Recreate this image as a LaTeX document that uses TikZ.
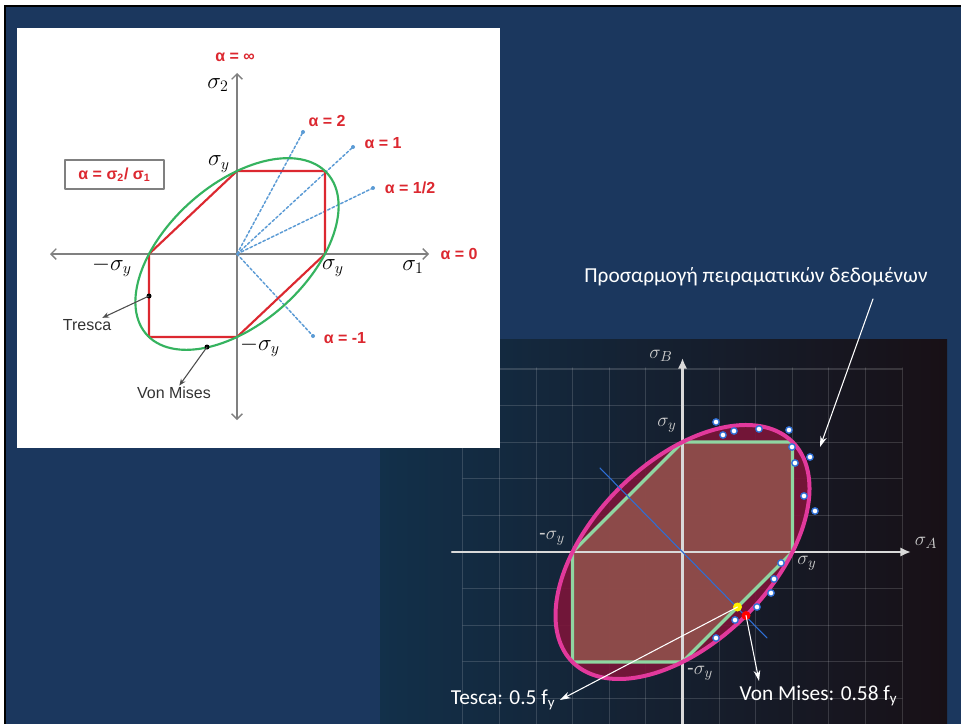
\documentclass[tikz,border=0pt]{standalone}
\usepackage{amsmath}
\usepackage{fontspec}
\setmainfont{Liberation Sans}
\newfontfamily\calibri{Carlito}
\usetikzlibrary{arrows.meta,calc}
\definecolor{slide}{HTML}{1B375E}
\definecolor{tred}{HTML}{DC2830}
\definecolor{vgreen}{HTML}{35B35F}
\definecolor{rayblue}{HTML}{5B9BD5}
\definecolor{magen}{HTML}{E2399C}
\definecolor{crim}{HTML}{7C1539}
\definecolor{salmon}{HTML}{90504B}
\definecolor{mint}{HTML}{8FD6A1}
\definecolor{dotblue}{HTML}{2E6FD6}
\definecolor{bgleft}{HTML}{12304A}
\definecolor{bgmid}{HTML}{0B1620}
\definecolor{bgright}{HTML}{181016}
\tikzset{
  ray/.style={rayblue, line width=1.1pt, dash pattern=on 2pt off 1.6pt},
  alab/.style={text=tred, font=\bfseries\fontsize{12}{14}\selectfont, inner sep=1pt},
  slab/.style={font=\fontsize{17}{20}\selectfont, inner sep=1pt},
  glab/.style={text=black!80, font=\fontsize{12}{14}\selectfont, inner sep=1pt},
  rlab/.style={text=gray!40, font=\fontsize{15}{17}\selectfont, inner sep=1pt},
  wlab/.style={text=white, font=\calibri\fontsize{16}{19}\selectfont},
  expt/.style={draw=dotblue, fill=white, line width=1pt},
  gridln/.style={white, opacity=0.15, line width=0.8pt},
}
\begin{document}
\begin{tikzpicture}[x=0.75pt, y=-0.75pt, >=Stealth, line join=round, line cap=round]
	\useasboundingbox (0,0) rectangle (961,724);
	\fill[white] (0,0) rectangle (961,724);
	\fill[black] (4,5) rectangle (961,724);
	\fill[slide] (6,7) rectangle (961,724);
	% right picture: experiments
	\def\Ax{682.5} \def\Ay{552} \def\sr{110}
	\shade[left color=bgleft, middle color=bgmid, right color=bgright] (380,339) rectangle (947,724);
	\foreach \k in {-6,...,6}
	{\draw[gridln] ({\Ax+36.6*\k},368)--({\Ax+36.6*\k},724);}
	\foreach \k in {-5,...,4}
	{\draw[gridln] (463,{\Ay+36.6*\k})--(902,{\Ay+36.6*\k});}
	\fill[crim, opacity=0.9] plot[smooth,samples=120,domain=0:360] ({\Ax+\sr*(cos(\x)+sin(\x)/sqrt(3))},{\Ay-\sr*(cos(\x)-sin(\x)/sqrt(3))}) -- cycle;
	\fill[salmon, opacity=0.9] ({\Ax},{\Ay-\sr})--({\Ax+\sr},{\Ay-\sr})--({\Ax+\sr},{\Ay})--({\Ax},{\Ay+\sr})--({\Ax-\sr},{\Ay+\sr})--({\Ax-\sr},{\Ay})--cycle;
	\draw[gray!30, line width=1.6pt, -{Latex[length=8pt,width=7pt]}] (452,\Ay)--(911,\Ay);
	\draw[gray!30, line width=1.6pt, -{Latex[length=8pt,width=7pt]}] (\Ax,724)--(\Ax,358);
	\draw[mint, line width=2.4pt] ({\Ax},{\Ay-\sr})--({\Ax+\sr},{\Ay-\sr})--({\Ax+\sr},{\Ay})--({\Ax},{\Ay+\sr})--({\Ax-\sr},{\Ay+\sr})--({\Ax-\sr},{\Ay})--cycle;
	\draw[magen, line width=3pt] plot[smooth,samples=120,domain=0:360] ({\Ax+\sr*(cos(\x)+sin(\x)/sqrt(3))},{\Ay-\sr*(cos(\x)-sin(\x)/sqrt(3))}) -- cycle;
	\draw[dotblue, line width=0.8pt] (600,468)--(767,638);
	\foreach \p in {(716,422),(723,435),(734,431),(759,429),(789,430),(792,447),(810,457),(795,463),(804,496),(815,511),(781,563),(774,579),(771,593),(757,607),(735,620),(716,638)}
	{\draw[expt] \p circle (3.2);}
	\node[rlab] (sB) at (661,356) {$\sigma_B$};
	\node[rlab] (sA) at (926,543) {$\sigma_A$};
	\node[rlab] (syt) at (667,425) {$\sigma_y$};
	\node[rlab] (syl) at (552,538) {-$\sigma_y$};
	\node[rlab] (syr) at (807,563) {$\sigma_y$};
	\node[rlab] (syb) at (700,673) {-$\sigma_y$};
	\coordinate (ty) at ({\Ax+\sr/2},{\Ay+\sr/2});
	\coordinate (vm) at ({\Ax+\sr/sqrt(3)},{\Ay+\sr/sqrt(3)});
	\fill[yellow] (ty) circle (4.5);
	\fill[red] (vm) circle (4.5);
	\node[wlab] (tesl) at (503,700) {Tesca: 0.5 f\textsubscript{y}};
	\node[wlab, anchor=north west] (vml) at (735,681) {Von Mises: 0.58 f\textsubscript{y}};
	\draw[white, line width=0.8pt, -{Stealth[length=8pt,width=5pt]}] (ty)--(tesl.east);
	\draw[white, line width=0.8pt, -{Stealth[length=8pt,width=5pt]}] (vm)--($(vml.north west)+(24,0)$);
	\node[wlab] (fitl) at (756,277) {Προσαρμογή πειραματικών δεδομένων};
	\coordinate (fite) at (820,447);
	\draw[white, line width=0.8pt, -{Stealth[length=8pt,width=5pt]}] ($(fitl.south)+(117,8)$)--(fite);
	% left picture: criteria
	\fill[white] (17,28) rectangle (500,448);
	\def\ox{237} \def\oy{254} \def\sx{88} \def\sy{83}
	\draw[gray, line width=1pt, {Straight Barb[length=4pt]}-{Straight Barb[length=4pt]}] (50,\oy)--(429,\oy);
	\draw[gray, line width=1pt, {Straight Barb[length=4pt]}-{Straight Barb[length=4pt]}] (\ox,73)--(\ox,420);
	\foreach \ex/\ey in {303/132,353/147,373/188,313/336}
	{\draw[ray] (\ox,\oy)--(\ex,\ey); \fill[rayblue] (\ex,\ey) circle (2);}
	\draw[tred, line width=1.6pt] ({\ox},{\oy-\sy})--({\ox+\sx},{\oy-\sy})--({\ox+\sx},{\oy})--({\ox},{\oy+\sy})--({\ox-\sx},{\oy+\sy})--({\ox-\sx},{\oy})--cycle;
	\draw[vgreen, line width=1.6pt] plot[smooth,samples=120,domain=0:360] ({\ox+\sx*(cos(\x)+sin(\x)/sqrt(3))},{\oy-\sy*(cos(\x)-sin(\x)/sqrt(3))}) -- cycle;
	\node[alab] (ainf) at (235,57) {α = ∞};
	\node[alab] (a2) at (327,121) {α = 2};
	\node[alab] (a1) at (383,143) {α = 1};
	\node[alab] (ahalf) at (410,188) {α = 1/2};
	\node[alab] (a0) at (459,254) {α = 0};
	\node[alab] (am1) at (345,338) {α = -1};
	\node[alab, draw=gray, line width=1.2pt, minimum width=74pt, minimum height=22pt] (abox) at (114.5,174.5) {α = σ\textsubscript{2}/ σ\textsubscript{1}};
	\node[slab] (s2) at (218,85) {$\sigma_2$};
	\node[slab] (syt1) at (219,164) {$\sigma_y$};
	\node[slab] (syl1) at (112,267) {$-\sigma_y$};
	\node[slab] (syr1) at (333,268) {$\sigma_y$};
	\node[slab] (s1) at (413,267) {$\sigma_1$};
	\node[slab] (syb1) at (260,347) {$-\sigma_y$};
	\coordinate (trd) at (149,296);
	\coordinate (vmd) at (207,347);
	\fill (trd) circle (2.5);
	\fill (vmd) circle (2.5);
	\node[glab] (trl) at (87,325) {Tresca};
	\node[glab] (vml2) at (174,393) {Von Mises};
	\draw[black!70, line width=0.8pt, -{Stealth[length=5pt,width=4pt]}] (trd)--(trl);
	\draw[black!70, line width=0.8pt, -{Stealth[length=5pt,width=4pt]}] (vmd)--(vml2);
\end{tikzpicture}
\end{document}
